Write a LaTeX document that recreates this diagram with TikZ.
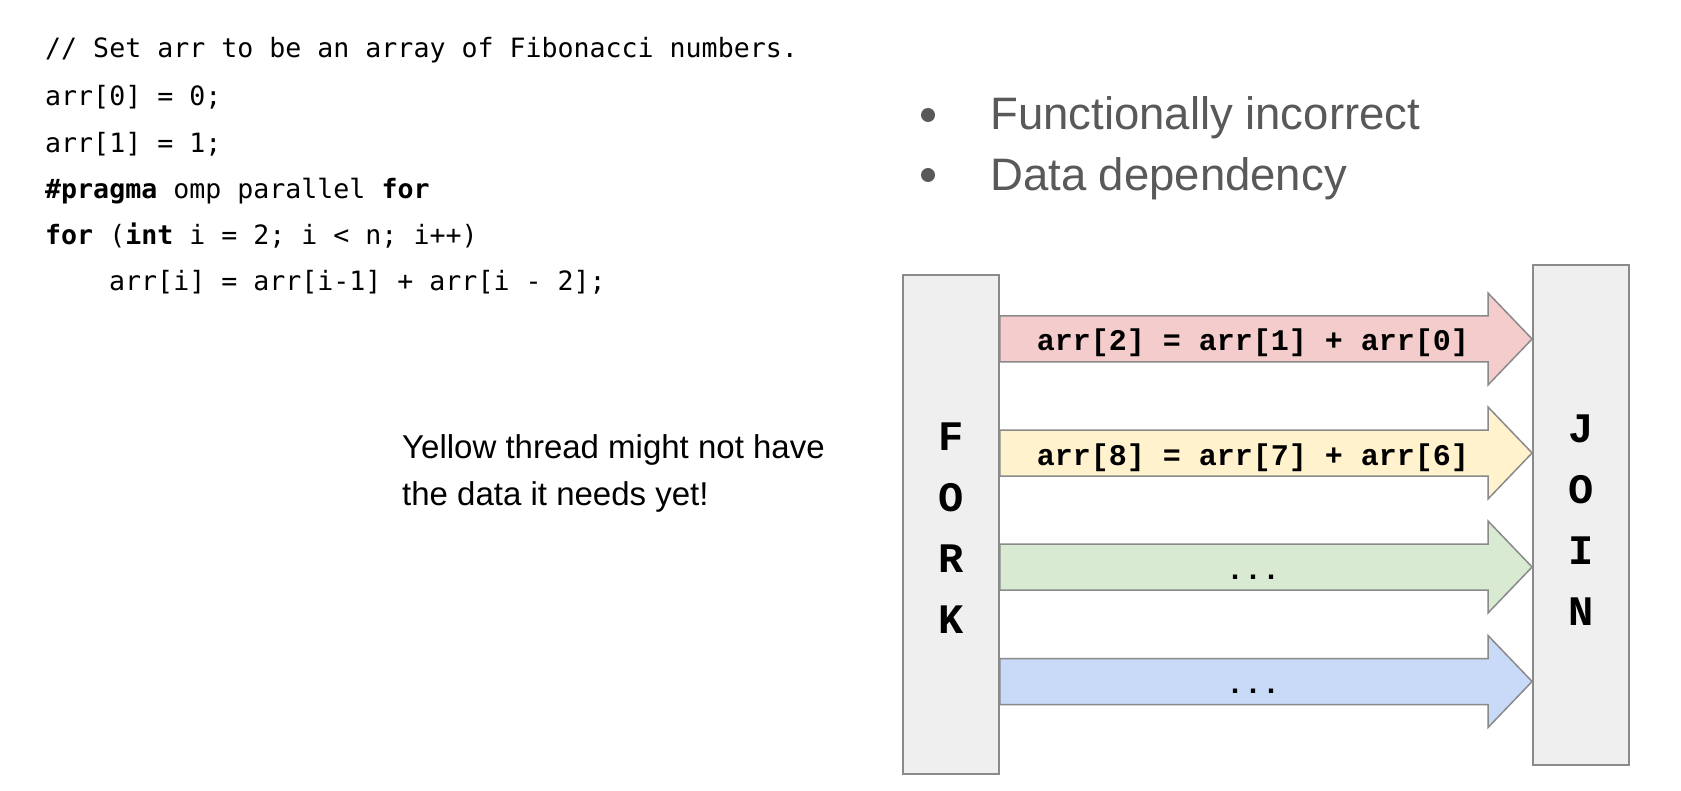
\documentclass[tikz,border=0pt]{standalone}
\usepackage{fontspec}
\setmainfont{Liberation Sans}
\newfontfamily\codefont{DejaVu Sans Mono}
\newfontfamily\courfont{Liberation Mono}
\definecolor{redf}{HTML}{F4CCCC}
\definecolor{yelf}{HTML}{FFF2CC}
\definecolor{grnf}{HTML}{D9EAD3}
\definecolor{bluf}{HTML}{C9DAF8}
\definecolor{boxf}{HTML}{EFEFEF}
\definecolor{boxd}{HTML}{8A8A8A}
\definecolor{bulc}{HTML}{595959}
\begin{document}
\begin{tikzpicture}[x=1pt,y=-1pt,
  codeline/.style={anchor=base west,inner sep=0pt,font=\codefont\fontsize{26.6}{26.6}\selectfont},
  sidebox/.style={draw=boxd,fill=boxf,line width=1.8pt,minimum width=96pt,inner sep=0pt},
  sideletters/.style={inner sep=0pt,align=center,font=\courfont\bfseries\fontsize{42}{61}\selectfont},
  thread/.style={draw=boxd,line width=1.5pt},
  threadlabel/.style={anchor=base,inner sep=0pt,font=\courfont\bfseries\fontsize{30}{30}\selectfont},
  bullettext/.style={anchor=base west,inner sep=0pt,text=bulc,font=\fontsize{45.5}{45.5}\selectfont},
  bulletdot/.style={circle,fill=bulc,minimum size=14pt,inner sep=0pt}]
\useasboundingbox[fill=white] (0,0) rectangle (1681,791);

% code
\node[codeline] (c1) at (45,58) {// Set arr to be an array of Fibonacci numbers.};
\node[codeline] (c2) at (45,106) {arr[0] = 0;};
\node[codeline] (c3) at (45,153) {arr[1] = 1;};
\node[codeline] (c4) at (45,199) {\textbf{\#pragma} omp parallel \textbf{for}};
\node[codeline] (c5) at (45,245) {\textbf{for} (\textbf{int} i = 2; i < n; i++)};
\node[codeline] (c6) at (109,291) {arr[i] = arr[i-1] + arr[i - 2];};

% bullets
\node[bulletdot] (b1) at (928,115) {};
\node[bullettext] (t1) at (990,130) {Functionally incorrect};
\node[bulletdot] (b2) at (928,175) {};
\node[bullettext] (t2) at (990,191) {Data dependency};

% note (anchor is the baseline of the last line)
\node[anchor=base west,inner sep=0pt,align=left,font=\fontsize{33}{47}\selectfont] (note) at (402,505)
  {Yellow thread might not have\\the data it needs yet!};

% fork / join
\node[sidebox,minimum height=499pt] (fork) at (951,524.5) {};
\node[sideletters] (forkl) at (951,528) {F\\O\\R\\K};
\node[sidebox,minimum height=500pt] (join) at (1581,515) {};
\node[sideletters] (joinl) at (1581,520) {J\\O\\I\\N};

% threads
\foreach \yy/\cc in {339/redf, 453/yelf, 567/grnf, 681.5/bluf}{
  \draw[thread,fill=\cc] (fork.east |- 0,\yy-23) -- (1488,\yy-23) -- (1488,\yy-46)
     -- (join.west |- 0,\yy) -- (1488,\yy+46) -- (1488,\yy+23) -- (fork.east |- 0,\yy+23) -- cycle;
}
\node[threadlabel] (l1) at (1253,351) {arr[2] = arr[1] + arr[0]};
\node[threadlabel] (l2) at (1253,465) {arr[8] = arr[7] + arr[6]};
\node[threadlabel] (l3) at (1253,579) {...};
\node[threadlabel] (l4) at (1253,693.5) {...};
\end{tikzpicture}
\end{document}
